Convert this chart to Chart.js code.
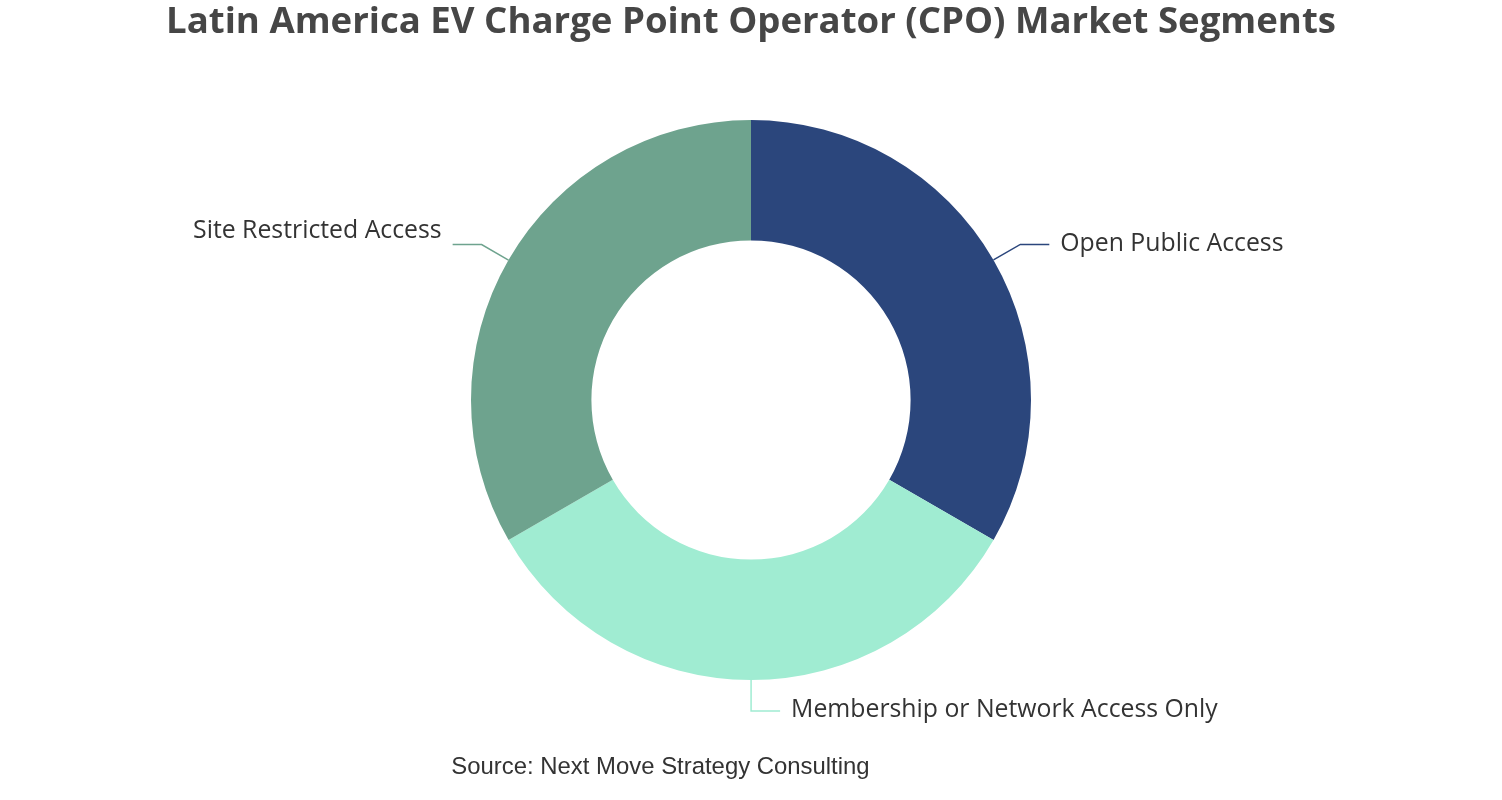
<!DOCTYPE html>
<html>
<head>
<meta charset="utf-8">
<script src="https://cdn.jsdelivr.net/npm/chart.js@4/dist/chart.umd.min.js"></script>
<style>
html,body{margin:0;padding:0;background:#fff;}
#wrap{width:1502px;height:800px;position:relative;}
</style>
</head>
<body>
<div id="wrap"><canvas id="c" width="1502" height="800"></canvas></div>
<script>
const titleText = 'Latin America EV Charge Point Operator (CPO) Market Segments';
const sourceText = 'Source: Next Move Strategy Consulting';
const categories = ['Open Public Access', 'Membership or Network Access Only', 'Site Restricted Access'];
const shares = [33.33, 33.33, 33.34];
const colors = ['#2b467c', '#a0ecd2', '#6ea38e'];

const labelPlugin = {
  id: 'leaderLabels',
  afterDatasetsDraw(chart) {
    const ctx = chart.ctx;
    const meta = chart.getDatasetMeta(0);
    ctx.save();
    meta.data.forEach((arc, i) => {
      const p = arc.getProps(['x','y','startAngle','endAngle','outerRadius'], true);
      const mid = (p.startAngle + p.endAngle) / 2;
      const cx = Math.cos(mid), cy = Math.sin(mid);
      const x0 = p.x + cx * p.outerRadius, y0 = p.y + cy * p.outerRadius;
      const x1 = p.x + cx * (p.outerRadius + 31), y1 = p.y + cy * (p.outerRadius + 31);
      const right = cx >= -0.01;
      const x2 = x1 + (right ? 29 : -29);
      ctx.strokeStyle = colors[i];
      ctx.lineWidth = 1.5;
      ctx.beginPath();
      ctx.moveTo(x0, y0); ctx.lineTo(x1, y1); ctx.lineTo(x2, y1);
      ctx.stroke();
      ctx.fillStyle = '#333333';
      ctx.font = '24.8px "Open Sans", "Noto Sans", sans-serif';
      ctx.textBaseline = 'middle';
      ctx.textAlign = right ? 'left' : 'right';
      ctx.fillText(categories[i], x2 + (right ? 11 : -11), y1 - (right ? 1 : 14));
    });
    ctx.restore();
  }
};

const textPlugin = {
  id: 'texts',
  afterDraw(chart) {
    const ctx = chart.ctx;
    ctx.save();
    ctx.fillStyle = '#464646';
    ctx.font = 'bold 36.6px "Open Sans", "Noto Sans", sans-serif';
    ctx.textAlign = 'center';
    ctx.textBaseline = 'middle';
    ctx.fillText(titleText, 751, 23);
    ctx.fillStyle = '#333333';
    ctx.font = '23.9px "Liberation Sans", Arial, sans-serif';
    ctx.fillText(sourceText, 660.5, 767);
    ctx.restore();
  }
};

new Chart(document.getElementById('c'), {
  type: 'doughnut',
  data: {
    labels: categories,
    datasets: [{
      data: shares,
      backgroundColor: colors,
      borderWidth: 0,
      hoverOffset: 0
    }]
  },
  options: {
    responsive: false,
    animation: false,
    cutout: '57%',
    layout: { padding: { top: 120, bottom: 120, left: 0, right: 0 } },
    plugins: { legend: { display: false }, tooltip: { enabled: false }, title: { display: false } }
  },
  plugins: [labelPlugin, textPlugin]
});
</script>
</body>
</html>
